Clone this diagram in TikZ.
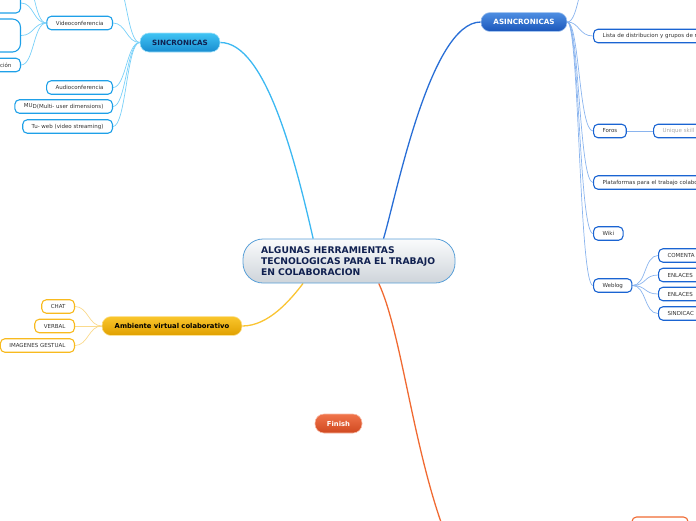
\documentclass[tikz,border=0pt]{standalone}
\usepackage{fontspec}
\setmainfont{DejaVu Sans}
\usetikzlibrary{backgrounds}
\definecolor{hubTop}{RGB}{250,251,252}
\definecolor{hubBot}{RGB}{206,212,218}
\definecolor{hubEdge}{RGB}{90,160,216}
\definecolor{hubText}{RGB}{16,32,80}
\definecolor{sincTop}{RGB}{64,196,244}
\definecolor{sincBot}{RGB}{24,140,208}
\definecolor{sincEdge}{RGB}{30,160,232}
\definecolor{sincLine}{RGB}{60,184,242}
\definecolor{sincTwig}{RGB}{120,208,248}
\definecolor{asincTop}{RGB}{78,142,226}
\definecolor{asincBot}{RGB}{26,86,186}
\definecolor{asincEdge}{RGB}{26,100,210}
\definecolor{asincLine}{RGB}{40,110,214}
\definecolor{asincTwig}{RGB}{138,180,238}
\definecolor{ambTop}{RGB}{250,198,44}
\definecolor{ambBot}{RGB}{224,160,0}
\definecolor{ambEdge}{RGB}{248,186,30}
\definecolor{ambLine}{RGB}{250,196,50}
\definecolor{ambTwig}{RGB}{250,218,140}
\definecolor{finTop}{RGB}{240,116,74}
\definecolor{finBot}{RGB}{208,72,32}
\definecolor{finLine}{RGB}{240,106,50}
\definecolor{leafText}{RGB}{51,51,51}
\definecolor{skillText}{RGB}{170,170,170}

\begin{document}
\begin{tikzpicture}[x=1pt, y=-1pt,
  branch/.style={rounded corners=9pt, minimum height=19pt, inner xsep=6pt, inner ysep=0pt, line width=0.6pt, font=\fontsize{7.2}{8}\selectfont\bfseries},
  leaf/.style={draw=sincEdge, line width=1.1pt, rounded corners=4.5pt, fill=white, text=leafText, font=\fontsize{5.5}{6.5}\selectfont, inner xsep=9pt, inner ysep=0pt, minimum height=13.5pt},
  leafA/.style={leaf, draw=asincEdge},
  leafY/.style={leaf, draw=ambEdge},
  trunk/.style={line width=1.3pt},
  twig/.style={line width=0.7pt}]
  \useasboundingbox (0,0) rectangle (696,520);
  \clip (0,0) rectangle (696,520);

  % Central topic
  \node[draw=hubEdge, line width=0.8pt, top color=hubTop, bottom color=hubBot, rounded corners=20pt, text width=176pt, align=left, inner xsep=18pt, minimum height=44pt, text=hubText, font=\fontsize{9.2}{11}\selectfont\bfseries] (hub) at (349,261) {ALGUNAS HERRAMIENTAS\\TECNOLOGICAS PARA EL TRABAJO\\EN COLABORACION};

  % Main branches
  \node[branch, minimum width=80pt, top color=sincTop, bottom color=sincBot, draw=sincTop!50!white, text=hubText] (sinc) at (180,42.5) {SINCRONICAS};
  \node[branch, minimum width=86pt, top color=asincTop, bottom color=asincBot, draw=asincTop!50!white, text=white] (asinc) at (524,22) {ASINCRONICAS};
  \node[branch, minimum width=140pt, top color=ambTop, bottom color=ambBot, draw=ambTop!50!white, text=black, font=\fontsize{6.8}{8}\selectfont\bfseries] (amb) at (172,326) {Ambiente virtual colaborativo};
  \node[branch, minimum width=47pt, top color=finTop, bottom color=finBot, draw=finTop!50!white, text=white, font=\fontsize{6.8}{8}\selectfont\bfseries] (finish) at (338.5,423.5) {Finish};
  \node[leaf, draw=finLine, minimum width=56pt, minimum height=20pt] (offBox) at (660,527) {};
  \coordinate (offS) at (442,525);

  % SINCRONICAS leaves
  \node[leaf, anchor=east] (video) at (113,23) {Videoconferencia};
  \node[leaf, anchor=east] (audio) at (113,87.5) {Audioconferencia};
  \node[leaf, anchor=east] (mud) at (113,106.5) {\raisebox{1.2pt}{MU}D(Multi- user dimensions)};
  \node[leaf, anchor=east] (tuweb) at (113,126.5) {Tu- web (video streaming)};
  \coordinate (sincUp) at (113,-25);

  % Videoconferencia leaves (cut by the frame)
  \node[leaf, anchor=east, minimum width=50pt, minimum height=20pt] (videoA) at (21,3) {};
  \node[leaf, anchor=east, minimum width=50pt, minimum height=33pt, rounded corners=8pt] (videoB) at (21,35.5) {};
  \node[leaf, anchor=east] (videoC) at (21,65) {ación};
  \coordinate (videoUp) at (21,-30);

  % ASINCRONICAS leaves
  \node[leafA, anchor=west, text width=110pt, align=left] (lista) at (593,36) {Lista de distribucion y grupos de n};
  \node[leafA, anchor=west] (foros) at (593,131) {Foros};
  \node[leafA, anchor=west, text=skillText, text width=40pt, align=left] (skill) at (653,131) {Unique skill};
  \node[leafA, anchor=west, text width=110pt, align=left] (plat) at (593,182.5) {Plataformas para el trabajo colabo};
  \node[leafA, anchor=west] (wiki) at (593,233.5) {Wiki};
  \node[leafA, anchor=west] (weblog) at (593,285.5) {Weblog};
  \coordinate (asincUp) at (593,-30);

  % Weblog leaves
  \node[leafA, anchor=west, text width=50pt, align=left] (coment) at (658,255.5) {COMENTA};
  \node[leafA, anchor=west, text width=50pt, align=left] (enlA) at (658,275) {ENLACES};
  \node[leafA, anchor=west, text width=50pt, align=left] (enlB) at (658,294) {ENLACES};
  \node[leafA, anchor=west, text width=50pt, align=left] (sindic) at (658,313.5) {SINDICAC};

  % Ambiente leaves
  \node[leafY, anchor=east] (chat) at (75,306.5) {CHAT};
  \node[leafY, anchor=east] (verbal) at (75,326) {VERBAL};
  \node[leafY, anchor=east] (gestual) at (75,345.5) {IMAGENES GESTUAL};

  \begin{pgfonlayer}{background}
  \clip (0,0) rectangle (696,520);
  % Trunks
  \draw[trunk, sincLine] (hub.148) .. controls +(-18,-79) and +(45,0) .. (sinc.east);
  \draw[trunk, asincLine] (hub.33) .. controls +(12,-39) and +(-51,0) .. (asinc.west);
  \draw[trunk, ambLine] (hub.206) .. controls +(-13,17) and +(26,0) .. (amb.east);
  \draw[trunk, finLine] (hub.323) .. controls +(22,47) and +(-30,-85) .. (offS);

  % SINCRONICAS twigs
  \draw[twig, sincTwig] (sinc.west) .. controls +(-13,0) and +(13,0) .. (sincUp);
  \draw[twig, sincTwig] (sinc.west) .. controls +(-13,0) and +(13,0) .. (video.east);
  \draw[twig, sincTwig] (sinc.west) .. controls +(-13,0) and +(13,0) .. (audio.east);
  \draw[twig, sincTwig] (sinc.west) .. controls +(-13,0) and +(13,0) .. (mud.east);
  \draw[twig, sincTwig] (sinc.west) .. controls +(-13,0) and +(13,0) .. (tuweb.east);
  \draw[twig, sincTwig] (video.west) .. controls +(-13,0) and +(13,0) .. (videoUp);
  \draw[twig, sincTwig] (video.west) .. controls +(-13,0) and +(13,0) .. (videoA.east);
  \draw[twig, sincTwig] (video.west) .. controls +(-13,0) and +(13,0) .. (videoB.east);
  \draw[twig, sincTwig] (video.west) .. controls +(-13,0) and +(13,0) .. (videoC.east);

  % ASINCRONICAS twigs
  \draw[twig, asincTwig] (asinc.east) .. controls +(12,0) and +(-14,0) .. (asincUp);
  \draw[twig, asincTwig] (asinc.east) .. controls +(12,0) and +(-14,0) .. (lista.west);
  \draw[twig, asincTwig] (asinc.east) .. controls +(12,0) and +(-14,0) .. (foros.west);
  \draw[twig, asincTwig] (asinc.east) .. controls +(12,0) and +(-14,0) .. (plat.west);
  \draw[twig, asincTwig] (asinc.east) .. controls +(12,0) and +(-14,0) .. (wiki.west);
  \draw[twig, asincTwig] (asinc.east) .. controls +(12,0) and +(-14,0) .. (weblog.west);
  \draw[twig, asincTwig] (foros) -- (skill);
  \draw[twig, asincTwig] (weblog.east) .. controls +(14,0) and +(-14,0) .. (coment.west);
  \draw[twig, asincTwig] (weblog.east) .. controls +(14,0) and +(-14,0) .. (enlA.west);
  \draw[twig, asincTwig] (weblog.east) .. controls +(14,0) and +(-14,0) .. (enlB.west);
  \draw[twig, asincTwig] (weblog.east) .. controls +(14,0) and +(-14,0) .. (sindic.west);

  % Ambiente twigs
  \draw[twig, ambTwig] (amb.west) .. controls +(-13,0) and +(13,0) .. (chat.east);
  \draw[twig, ambTwig] (amb.west) .. controls +(-13,0) and +(13,0) .. (verbal.east);
  \draw[twig, ambTwig] (amb.west) .. controls +(-13,0) and +(13,0) .. (gestual.east);
  \end{pgfonlayer}
\end{tikzpicture}
\end{document}
